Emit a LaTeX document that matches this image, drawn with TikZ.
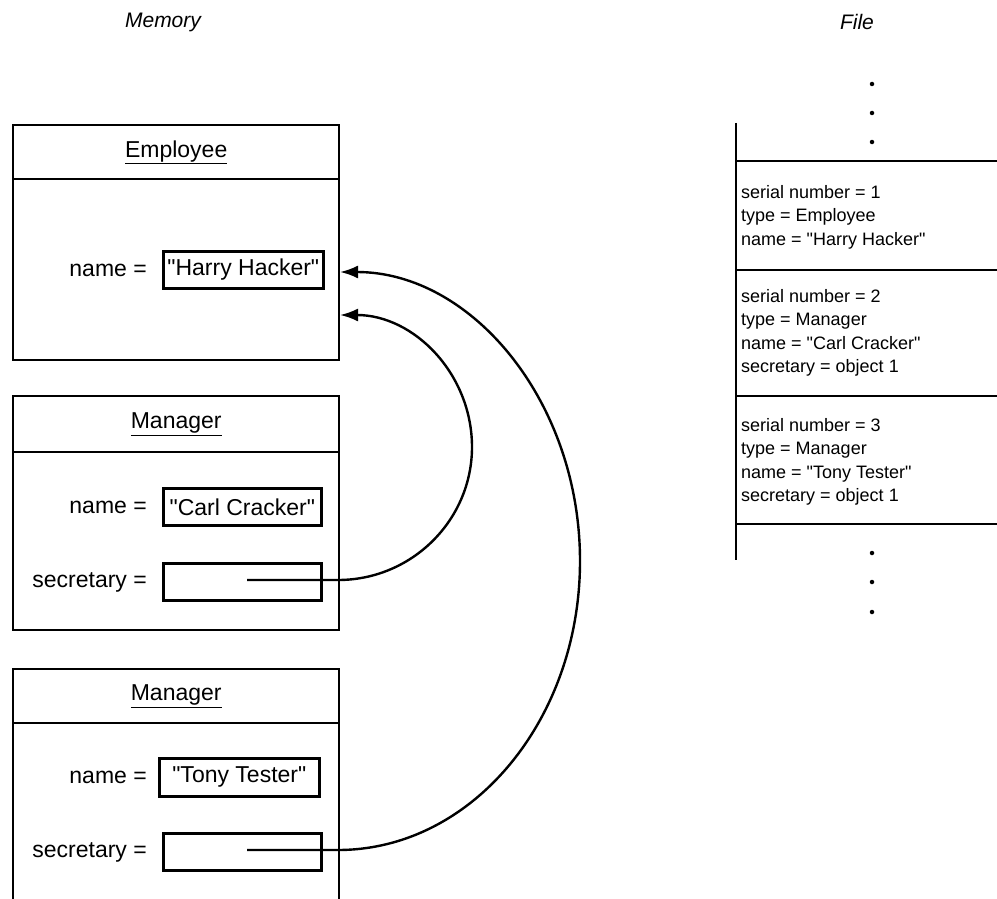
\documentclass[tikz,border=0pt]{standalone}
\usepackage{fontspec}
\setmainfont{Liberation Sans}[Ligatures=TeXOff]
\usetikzlibrary{arrows.meta}
\tikzset{
  head/.style={draw, line width=2.4pt, minimum width=326pt, inner sep=0pt, anchor=north west, font=\fontsize{23}{27}\selectfont},
  bodybox/.style={draw, line width=2.4pt, minimum width=326pt, inner sep=0pt, anchor=north west},
  valbox/.style={draw, line width=2.6pt, minimum width=158pt, minimum height=37pt, inner sep=0pt, anchor=north west, font=\fontsize{23}{27}\selectfont},
  lbl/.style={anchor=east, inner sep=0pt, font=\fontsize{23}{27}\selectfont},
  rec/.style={anchor=west, inner sep=0pt, align=left, font=\fontsize{18}{23.5}\selectfont},
  ttl/.style={inner sep=0pt, font=\fontsize{21}{25}\selectfont\itshape},
  fline/.style={line width=2.6pt},
  ptr/.style={line width=2.4pt, -{Latex[length=18pt,width=13pt]}},
  dotm/.style={circle, fill=black, inner sep=0pt, minimum size=4.5pt}
}
\begin{document}
\begin{tikzpicture}[x=1pt,y=-1pt]
\useasboundingbox (0,0) rectangle (997,899);
\clip (0,0) rectangle (997,899);

% titles
\node[ttl] (tmem) at (163,22) {Memory};
\node[ttl] (tfile) at (857,22) {File};

% Employee object
\node[head, minimum height=54pt] (emph) at (12,124) {\underline{Employee}};
\node[bodybox, minimum height=181pt] (emp) at (12,178) {};
\node[valbox, minimum width=160pt] (empname) at (162,250) {"Harry Hacker"};
\node[lbl] (empnl) at (147,270) {name =};

% Manager 1
\node[head, minimum height=56pt] (m1h) at (12,395) {\underline{Manager}};
\node[bodybox, minimum height=178pt] (m1) at (12,451) {};
\node[valbox] (m1name) at (162,487) {"Carl Cracker"};
\node[lbl] (m1nl) at (147,507) {name =};
\node[valbox] (m1sec) at (162,562) {};
\node[lbl] (m1sl) at (147,582) {secretary =};

% Manager 2
\node[head, minimum height=54pt] (m2h) at (12,668) {\underline{Manager}};
\node[bodybox, minimum height=200pt] (m2) at (12,722) {};
\node[valbox, minimum width=160pt, minimum height=38pt] (m2name) at (158,757) {"Tony Tester"};
\node[lbl] (m2nl) at (147,777.5) {name =};
\node[valbox] (m2sec) at (162,832) {};
\node[lbl] (m2sl) at (147,852) {secretary =};

% pointer coordinates
\coordinate (s1) at (247,580);
\coordinate (s2) at (247,850);
\coordinate (t1) at (340,315);
\coordinate (t2) at (340,272);

\draw[ptr] (s1) -- (338,580) .. controls (412,580) and (472,520) .. (472,447)
  .. controls (472,374) and (414,315) .. (t1);
\draw[ptr] (s2) -- (338,850) .. controls (472,850) and (580,720) .. (580,561)
  .. controls (580,402) and (472,272) .. (t2);

% File column
\draw[fline] (736,123) -- (736,560);
\draw[fline] (736,161) -- (997,161);
\draw[fline] (736,270) -- (997,270);
\draw[fline] (736,396) -- (997,396);
\draw[fline] (736,524) -- (997,524);

\node[rec] (r1) at (741,217) {serial number = 1\\type = Employee\\name = "Harry Hacker"};
\node[rec] (r2) at (741,333) {serial number = 2\\type = Manager\\name = "Carl Cracker"\\secretary = object 1};
\node[rec] (r3) at (741,462) {serial number = 3\\type = Manager\\name = "Tony Tester"\\secretary = object 1};

\node[dotm] (d1) at (872,84) {};
\node[dotm] (d2) at (872,113) {};
\node[dotm] (d3) at (872,142) {};
\node[dotm] (d4) at (872,553) {};
\node[dotm] (d5) at (872,582) {};
\node[dotm] (d6) at (872,612) {};
\end{tikzpicture}
\end{document}
